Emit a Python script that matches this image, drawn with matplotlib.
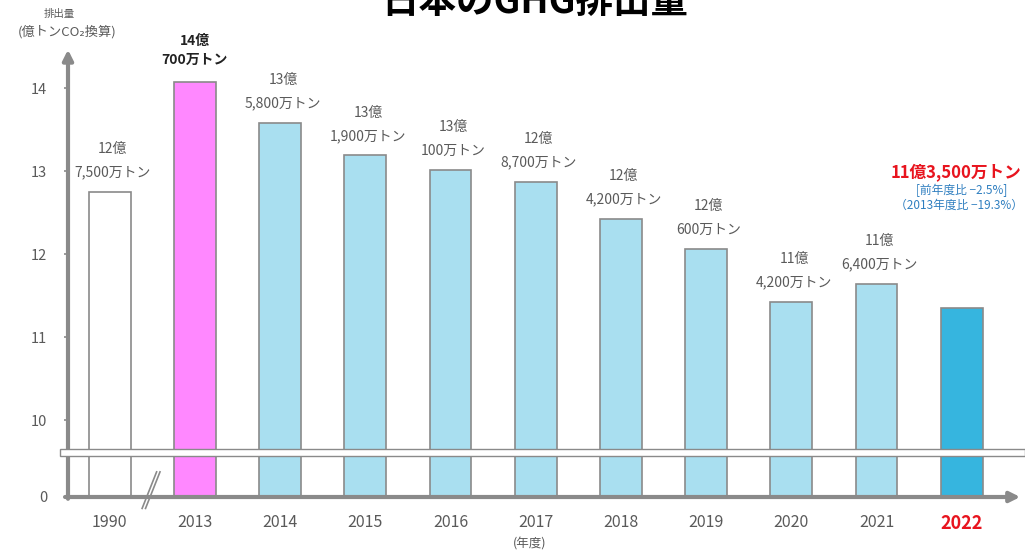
import matplotlib.pyplot as plt
import numpy as np
from matplotlib.patches import Rectangle

JP = ["Noto Sans CJK JP", "DejaVu Sans"]
plt.rcParams["font.family"] = JP

years = ["1990", "2013", "2014", "2015", "2016", "2017", "2018", "2019", "2020", "2021", "2022"]
emissions = [12.75, 14.07, 13.58, 13.19, 13.01, 12.87, 12.42, 12.06, 11.42, 11.64, 11.35]
value_labels = [
    "12億\n7,500万トン", "14億\n700万トン", "13億\n5,800万トン", "13億\n1,900万トン",
    "13億\n100万トン", "12億\n8,700万トン", "12億\n4,200万トン", "12億\n600万トン",
    "11億\n4,200万トン", "11億\n6,400万トン", "",
]
bar_colors = ["#ffffff", "#ff88ff"] + ["#a9dff0"] * 8 + ["#36b5df"]
y_ticks = [0, 10, 11, 12, 13, 14]

GRAY = "#8a8a8a"
TEXT = "#5a5a5a"

# broken axis: 0..BREAK squeezed into a small strip under the 10+ range
BREAK = 9.6
LOW = 9.072


def forward(v):
    v = np.asarray(v, dtype=float)
    return np.where(v >= BREAK, v, LOW + v * (BREAK - LOW) / BREAK)


def inverse(y):
    y = np.asarray(y, dtype=float)
    return np.where(y >= BREAK, y, (y - LOW) * BREAK / (BREAK - LOW))


fig = plt.figure(figsize=(10.25, 5.51), dpi=100)
ax = fig.add_axes([68 / 1025, 54 / 551, 955 / 1025, 457 / 551])
ax.set_yscale("function", functions=(forward, inverse))
ax.set_ylim(0, 14.58)
x = np.arange(len(years))
ax.set_xlim(-0.49, 10.72)

ax.bar(x, emissions, width=0.49, color=bar_colors, edgecolor=GRAY, linewidth=1.2, zorder=2)

for spine in ax.spines.values():
    spine.set_visible(False)
ax.annotate("", xy=(0, 0.985), xytext=(0, -0.01), xycoords="axes fraction",
            arrowprops=dict(arrowstyle="-|>,head_length=0.6,head_width=0.3", color=GRAY, lw=3))
ax.annotate("", xy=(1.0, 0.0), xytext=(-0.006, 0.0), xycoords="axes fraction",
            arrowprops=dict(arrowstyle="-|>,head_length=0.6,head_width=0.3", color=GRAY, lw=3))

ax.set_yticks(y_ticks)
ax.set_yticklabels([str(t) for t in y_ticks])
ax.tick_params(axis="y", length=3, width=1.2, color=GRAY, pad=12, labelsize=10.5, labelcolor=TEXT)
ax.set_xticks(x)
ax.set_xticklabels(years)
ax.tick_params(axis="x", length=0, pad=12, labelsize=11.5, labelcolor=TEXT)
last = ax.get_xticklabels()[-1]
last.set_color("#e8141e")
last.set_fontweight("bold")
last.set_fontsize(13)

for i, (v, lab) in enumerate(zip(emissions, value_labels)):
    if not lab:
        continue
    bold = i == 1
    ax.annotate(lab, xy=(i, v), xytext=(0 if bold else 2, 11 if bold else 9), textcoords="offset points",
                ha="center", va="bottom", fontsize=10, linespacing=1.45 if bold else 1.85,
                color="#222222" if bold else TEXT, fontweight="bold" if bold else "normal")

ax.annotate("11億3,500万トン", xy=(10, emissions[10]), xytext=(-4, 91), textcoords="offset points",
            ha="center", va="bottom", fontsize=12, color="#e8141e", fontweight="bold")
ax.annotate("[前年度比 −2.5%]", xy=(10, emissions[10]), xytext=(0, 80), textcoords="offset points",
            ha="center", va="bottom", fontsize=8.5, color="#2f7fc0")
ax.annotate("（2013年度比 −19.3%）", xy=(10, emissions[10]), xytext=(-2, 69), textcoords="offset points",
            ha="center", va="bottom", fontsize=8.5, color="#2f7fc0")

# break marks on the x axis between 1990 and 2013
for dx in (0.0, 0.04):
    ax.plot([0.38 + dx, 0.55 + dx], [-0.025, 0.055], transform=ax.get_xaxis_transform(),
            color=GRAY, lw=1.2, clip_on=False, zorder=5)

# break band across the chart
fig.patches.append(Rectangle((60 / 1025, 95 / 551), 965 / 1025, 7 / 551, transform=fig.transFigure,
                             facecolor="white", edgecolor=GRAY, linewidth=1.0, zorder=3))

fig.text(59 / 1025, 1 - 14 / 551, "排出量", ha="center", va="center", fontsize=7.5, color=TEXT)
fig.text(67 / 1025, 1 - 32 / 551, "(億トンCO₂換算)", ha="center", va="center", fontsize=9.5, color=TEXT)
fig.text(530 / 1025, 1 - 544 / 551, "(年度)", ha="center", va="center", fontsize=9, color=TEXT)
fig.text(535 / 1025, 1 - 13 / 551, "日本のGHG排出量", ha="center", va="baseline",
         fontsize=27, fontweight="bold", color="black")

fig.savefig("out.png", dpi=100, facecolor="white")
